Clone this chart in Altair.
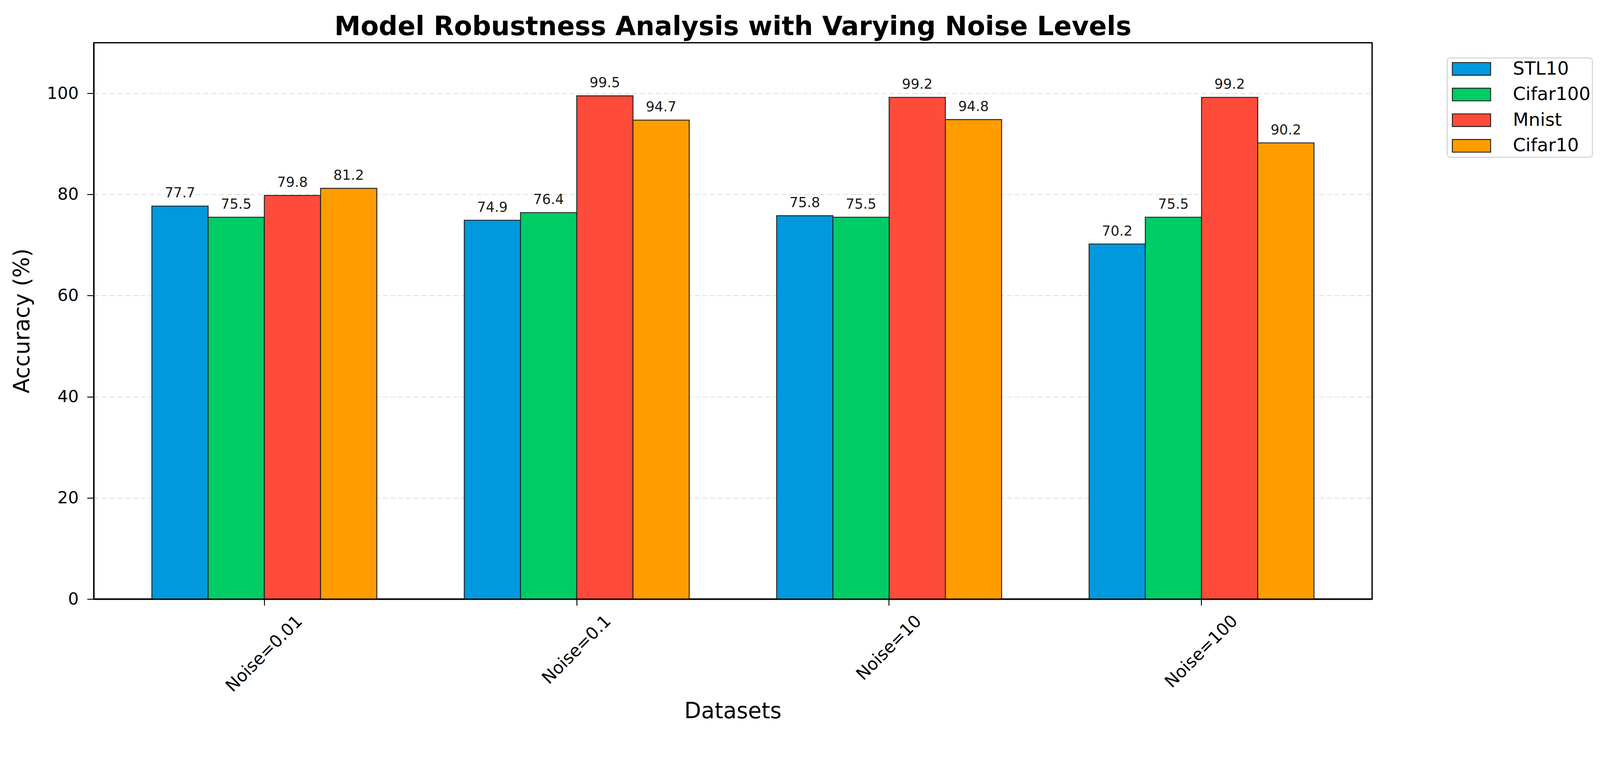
import altair as alt
import pandas as pd

categories = ["Noise=0.01", "Noise=0.1", "Noise=10", "Noise=100"]
series = ["STL10", "Cifar100", "Mnist", "Cifar10"]
stl10 = [77.7, 74.9, 75.8, 70.2]
cifar100 = [75.5, 76.4, 75.5, 75.5]
mnist = [79.8, 99.5, 99.2, 99.2]
cifar10 = [81.2, 94.7, 94.8, 90.2]
colors = ["#0099DD", "#00CC66", "#FF4B3A", "#FF9D00"]
y_ticks = [0, 20, 40, 60, 80, 100]

rows = []
for s, vals in zip(series, [stl10, cifar100, mnist, cifar10]):
    for c, v in zip(categories, vals):
        rows.append({"dataset": c, "model": s, "acc": v})
df = pd.DataFrame(rows)

W, H = 3441, 1497
FONT = "DejaVu Sans"

# rotated tick labels: centre of each rotated label sits below its tick
label_pad = {"Noise=0.01": 130, "Noise=0.1": 119, "Noise=10": 114, "Noise=100": 124}
pad_cond = {
    "condition": [{"test": f"datum.value === '{k}'", "value": v} for k, v in label_pad.items()],
    "value": 120,
}

x_axis = alt.Axis(
    title="Datasets", labelAngle=315, labelAlign="center", labelBaseline="middle",
    labelPadding=pad_cond, labelFont=FONT, labelFontSize=46, labelColor="black",
    labelOverlap=False, labelLimit=600,
    ticks=True, tickSize=17, tickWidth=2.5, tickColor="black",
    domain=True, domainColor="black", domainWidth=3.5,
    titleFont=FONT, titleFontSize=59, titleFontWeight="normal", titleColor="black",
    titleX=1720, titleY=320, titleBaseline="alphabetic", titleAlign="center",
    grid=False, zindex=1,
)

y_axis = alt.Axis(
    title="Accuracy (%)", values=y_ticks, grid=True, gridColor="#dcdcdc",
    gridDash=[14, 7], gridWidth=2,
    domain=True, domainColor="black", domainWidth=3.5,
    ticks=True, tickSize=18, tickWidth=2.5, tickColor="black",
    labelFont=FONT, labelFontSize=45, labelColor="black", labelPadding=23,
    titleFont=FONT, titleFontSize=59, titleFontWeight="normal", titleColor="black",
    titleX=-174, titleY=748, titleAngle=270, titleBaseline="alphabetic", titleAlign="center",
)

base = alt.Chart(df).encode(
    x=alt.X("dataset:N", sort=categories,
            scale=alt.Scale(paddingInner=0.28, paddingOuter=0.186), axis=x_axis),
    xOffset=alt.XOffset("model:N", sort=series,
                        scale=alt.Scale(domain=series, paddingInner=0, paddingOuter=0)),
    y=alt.Y("acc:Q", scale=alt.Scale(domain=[0, 110], nice=False, zero=True), axis=y_axis),
)

bars = base.mark_bar(stroke="#222222", strokeWidth=2.5, opacity=1).encode(
    color=alt.Color(
        "model:N", sort=series,
        scale=alt.Scale(domain=series, range=colors),
        legend=alt.Legend(
            title=None, orient="none", legendX=3643, legendY=41, direction="vertical",
            symbolType="M-2.24,-0.74H2.24V0.74H-2.24Z", symbolSize=2116,
            symbolOffset=36,
            symbolStrokeColor="#222222", symbolStrokeWidth=2.5, symbolOpacity=1,
            labelFont=FONT, labelFontSize=49, labelColor="black", labelOffset=87,
            labelLimit=600,
            rowPadding=19, padding=5, fillColor="white", strokeColor="#d0d0d0",
            cornerRadius=8,
        ),
    )
)

texts = base.mark_text(
    baseline="alphabetic", dy=-23, fontSize=37, font=FONT, color="#1a1a1a"
).encode(text=alt.Text("acc:Q", format=".1f"))

chart = (
    alt.layer(bars, texts)
    .properties(
        width=W, height=H,
        title=alt.Title(
            "Model Robustness Analysis with Varying Noise Levels",
            font=FONT, fontSize=71, fontWeight="bold", color="black",
            anchor="middle", frame="group", offset=14, dy=65, baseline="alphabetic",
        ),
        padding={"left": 244, "top": 58, "right": 605, "bottom": 330},
        autosize=alt.AutoSizeParams(type="none"),
        background="white",
    )
    .configure_view(stroke="black", strokeWidth=3.5)
    .configure_legend(strokeWidth=2.5)
)

chart.save("out.html", embed_options={"renderer": "svg", "actions": False})
